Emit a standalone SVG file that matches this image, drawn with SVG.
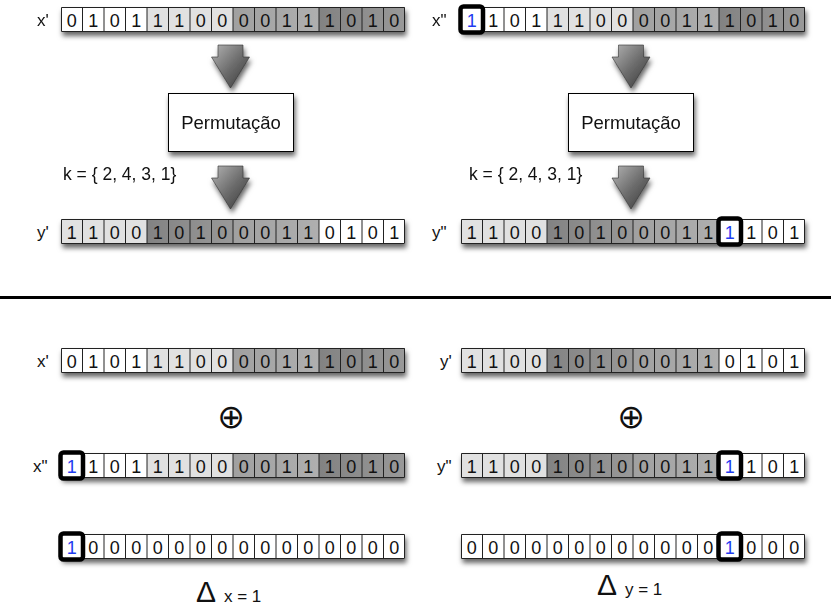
<svg xmlns="http://www.w3.org/2000/svg" xmlns:xlink="http://www.w3.org/1999/xlink" width="831" height="610" viewBox="0 0 831 610">
  <style>
    text { font-family: "Liberation Sans", Arial, sans-serif; fill: #111; }
    .bits { font-size: 18px; text-anchor: middle; }
    .hbit { font-size: 18px; text-anchor: middle; fill: #1f3cf0; }
    .lbl { font-size: 17px; }
    .w { fill: #ffffff; }
    .l { fill: #e1e1e1; }
    .m { fill: url(#gMid); }
    .d { fill: url(#gDark); }
    .grid { fill: none; stroke: #222; stroke-width: 1; }
    .hl { fill: #ffffff; stroke: #000; stroke-width: 4.5; }
    .box { fill: #ffffff; stroke: #000; stroke-width: 1; }
    .arrow { fill: url(#gArrow); stroke: #333; stroke-width: 0.6; }
    .xor { font-family: "DejaVu Sans", sans-serif; font-size: 33px; text-anchor: middle; }
  </style>
  <defs>
    <filter id="sh" x="-10%" y="-40%" width="120%" height="200%">
      <feDropShadow dx="1.5" dy="4" stdDeviation="2.6" flood-color="#000" flood-opacity="0.6"/>
    </filter>
    <linearGradient id="gMid" x1="0" y1="0" x2="1" y2="0">
      <stop offset="0" stop-color="#a0a0a0"/>
      <stop offset="1" stop-color="#afafaf"/>
    </linearGradient>
    <linearGradient id="gDark" x1="0" y1="0" x2="1" y2="0">
      <stop offset="0" stop-color="#828282"/>
      <stop offset="1" stop-color="#999999"/>
    </linearGradient>
    <linearGradient id="gArrow" x1="0" y1="0" x2="1" y2="1">
      <stop offset="0" stop-color="#b4b4b4"/>
      <stop offset="0.5" stop-color="#6e6e6e"/>
      <stop offset="1" stop-color="#353535"/>
    </linearGradient>
    <!-- 16-cell register outline -->
    <path id="grid" class="grid" d="M0.5 0.5H343.5V24.5H0.5Z M21.5 0.5V24.5 M43 0.5V24.5 M64.5 0.5V24.5 M86 0.5V24.5 M107.5 0.5V24.5 M129 0.5V24.5 M150.5 0.5V24.5 M172 0.5V24.5 M193.5 0.5V24.5 M215 0.5V24.5 M236.5 0.5V24.5 M258 0.5V24.5 M279.5 0.5V24.5 M301 0.5V24.5 M322.5 0.5V24.5"/>
    <rect id="back" x="0" y="0" width="344" height="25" fill="#fff" filter="url(#sh)"/>
    <!-- shading for plain order: white, light, mid, dark -->
    <g id="shadeX">
      <rect class="w" x="0" y="0" width="86" height="25"/>
      <rect class="l" x="86" y="0" width="86" height="25"/>
      <rect class="m" x="172" y="0" width="86" height="25"/>
      <rect class="d" x="258" y="0" width="86" height="25"/>
    </g>
    <!-- shading after permutation k = {2,4,3,1} -->
    <g id="shadeY">
      <rect class="l" x="0" y="0" width="86" height="25"/>
      <rect class="d" x="86" y="0" width="86" height="25"/>
      <rect class="m" x="172" y="0" width="86" height="25"/>
      <rect class="w" x="258" y="0" width="86" height="25"/>
    </g>
    <path id="arw" class="arrow" d="M-12.5 0H12.5V12H19L0 43L-19 12H-12.5Z"/>
  </defs>

  <rect width="831" height="610" fill="#fff"/>

  <!-- connectors: block arrows through the permutation -->
  <g id="connectors" filter="url(#sh)">
    <use xlink:href="#arw" x="230.5" y="45"/>
    <use xlink:href="#arw" x="230.5" y="166"/>
    <use xlink:href="#arw" x="631" y="45"/>
    <use xlink:href="#arw" x="631" y="166"/>
  </g>

  <!-- permutation boxes -->
  <g id="perm-left">
    <rect class="box" x="168.5" y="93.5" width="125" height="58" filter="url(#sh)"/>
    <text x="231" y="129" font-size="18.5" text-anchor="middle">Permutação</text>
  </g>
  <g id="perm-right">
    <rect class="box" x="568.5" y="93.5" width="125" height="58" filter="url(#sh)"/>
    <text x="631" y="129" font-size="18.5" text-anchor="middle">Permutação</text>
  </g>

  <g id="key-left"><text x="63" y="180" font-size="17.5">k = { 2, 4, 3, 1}</text></g>
  <g id="key-right"><text x="469" y="180" font-size="17.5">k = { 2, 4, 3, 1}</text></g>

  <!-- top: x' -> y' -->
  <g id="top-xp">
    <text class="lbl" x="37" y="26">x'</text>
    <g transform="translate(61,7)">
      <use xlink:href="#back"/><use xlink:href="#shadeX"/><use xlink:href="#grid"/>
      <text class="bits" x="10.75 32.25 53.75 75.25 96.75 118.25 139.75 161.25 182.75 204.25 225.75 247.25 268.75 290.25 311.75 333.25" y="19.5">0101110000111010</text>
    </g>
  </g>
  <g id="top-yp">
    <text class="lbl" x="37" y="238">y'</text>
    <g transform="translate(61,219)">
      <use xlink:href="#back"/><use xlink:href="#shadeY"/><use xlink:href="#grid"/>
      <text class="bits" x="10.75 32.25 53.75 75.25 96.75 118.25 139.75 161.25 182.75 204.25 225.75 247.25 268.75 290.25 311.75 333.25" y="19.5">1100101000110101</text>
    </g>
  </g>

  <!-- top: x'' -> y'' -->
  <g id="top-xpp">
    <text class="lbl" x="432" y="26">x"</text>
    <g transform="translate(461,7)">
      <use xlink:href="#back"/><use xlink:href="#shadeX"/><use xlink:href="#grid"/>
      <text class="bits" x="32.25 53.75 75.25 96.75 118.25 139.75 161.25 182.75 204.25 225.75 247.25 268.75 290.25 311.75 333.25" y="19.5">101110000111010</text>
      <rect class="hl" x="-0.5" y="-0.5" width="22.5" height="26" rx="3"/>
      <text class="hbit" x="10.75" y="19.5">1</text>
    </g>
  </g>
  <g id="top-ypp">
    <text class="lbl" x="432" y="238">y"</text>
    <g transform="translate(461,219)">
      <use xlink:href="#back"/><use xlink:href="#shadeY"/><use xlink:href="#grid"/>
      <text class="bits" x="10.75 32.25 53.75 75.25 96.75 118.25 139.75 161.25 182.75 204.25 225.75 247.25" y="19.5">110010100011</text>
      <text class="bits" x="290.25 311.75 333.25" y="19.5">101</text>
      <rect class="hl" x="257.5" y="-0.5" width="22.5" height="26" rx="3"/>
      <text class="hbit" x="268.75" y="19.5">1</text>
    </g>
  </g>

  <!-- divider -->
  <line x1="0" y1="297.5" x2="831" y2="297.5" stroke="#000" stroke-width="3"/>

  <!-- bottom: input difference -->
  <g id="bot-xp">
    <text class="lbl" x="37" y="367">x'</text>
    <g transform="translate(61,348)">
      <use xlink:href="#back"/><use xlink:href="#shadeX"/><use xlink:href="#grid"/>
      <text class="bits" x="10.75 32.25 53.75 75.25 96.75 118.25 139.75 161.25 182.75 204.25 225.75 247.25 268.75 290.25 311.75 333.25" y="19.5">0101110000111010</text>
    </g>
  </g>
  <g id="xor-left"><text class="xor" x="231" y="427.5">⊕</text></g>
  <g id="bot-xpp">
    <text class="lbl" x="33" y="472">x"</text>
    <g transform="translate(61,453)">
      <use xlink:href="#back"/><use xlink:href="#shadeX"/><use xlink:href="#grid"/>
      <text class="bits" x="32.25 53.75 75.25 96.75 118.25 139.75 161.25 182.75 204.25 225.75 247.25 268.75 290.25 311.75 333.25" y="19.5">101110000111010</text>
      <rect class="hl" x="-0.5" y="-0.5" width="22.5" height="26" rx="3"/>
      <text class="hbit" x="10.75" y="19.5">1</text>
    </g>
  </g>
  <g id="bot-dx">
    <g transform="translate(61,534)">
      <use xlink:href="#back"/><use xlink:href="#grid"/>
      <text class="bits" x="32.25 53.75 75.25 96.75 118.25 139.75 161.25 182.75 204.25 225.75 247.25 268.75 290.25 311.75 333.25" y="19.5">000000000000000</text>
      <rect class="hl" x="-0.5" y="-0.5" width="22.5" height="26" rx="3"/>
      <text class="hbit" x="10.75" y="19.5">1</text>
    </g>
    <text x="196" y="602" font-size="30">Δ</text>
    <text x="224" y="602" font-size="17">x = 1</text>
  </g>

  <!-- bottom: output difference -->
  <g id="bot-yp">
    <text class="lbl" x="440" y="367">y'</text>
    <g transform="translate(461,348)">
      <use xlink:href="#back"/><use xlink:href="#shadeY"/><use xlink:href="#grid"/>
      <text class="bits" x="10.75 32.25 53.75 75.25 96.75 118.25 139.75 161.25 182.75 204.25 225.75 247.25 268.75 290.25 311.75 333.25" y="19.5">1100101000110101</text>
    </g>
  </g>
  <g id="xor-right"><text class="xor" x="631" y="427.5">⊕</text></g>
  <g id="bot-ypp">
    <text class="lbl" x="437" y="472">y"</text>
    <g transform="translate(461,453)">
      <use xlink:href="#back"/><use xlink:href="#shadeY"/><use xlink:href="#grid"/>
      <text class="bits" x="10.75 32.25 53.75 75.25 96.75 118.25 139.75 161.25 182.75 204.25 225.75 247.25" y="19.5">110010100011</text>
      <text class="bits" x="290.25 311.75 333.25" y="19.5">101</text>
      <rect class="hl" x="257.5" y="-0.5" width="22.5" height="26" rx="3"/>
      <text class="hbit" x="268.75" y="19.5">1</text>
    </g>
  </g>
  <g id="bot-dy">
    <g transform="translate(461,534)">
      <use xlink:href="#back"/><use xlink:href="#grid"/>
      <text class="bits" x="10.75 32.25 53.75 75.25 96.75 118.25 139.75 161.25 182.75 204.25 225.75 247.25" y="19.5">000000000000</text>
      <text class="bits" x="290.25 311.75 333.25" y="19.5">000</text>
      <rect class="hl" x="257.5" y="-0.5" width="22.5" height="26" rx="3"/>
      <text class="hbit" x="268.75" y="19.5">1</text>
    </g>
    <text x="597" y="595" font-size="30">Δ</text>
    <text x="625" y="595" font-size="17">y = 1</text>
  </g>
</svg>
